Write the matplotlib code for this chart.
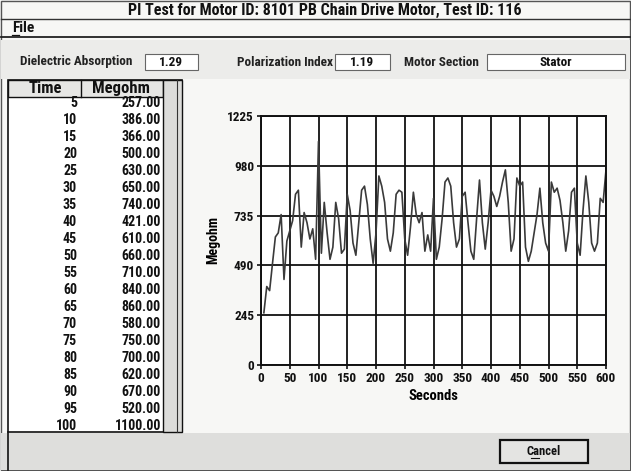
import matplotlib
matplotlib.use('Agg')
import matplotlib.pyplot as plt
from matplotlib.patches import Rectangle
from matplotlib import font_manager

names = {f.name for f in font_manager.fontManager.ttflist}
fams = [n for n in ['Liberation Sans Narrow', 'DejaVu Sans Condensed', 'Roboto Condensed'] if n in names]
plt.rcParams['font.family'] = fams + ['DejaVu Sans']
plt.rcParams['font.weight'] = 'bold'
plt.rcParams['axes.labelweight'] = 'bold'
plt.rcParams['font.stretch'] = 'condensed'

title = 'PI Test for Motor ID: 8101 PB Chain Drive Motor, Test ID: 116'
dielectric_absorption = '1.29'
polarization_index = '1.19'
motor_section = 'Stator'

# table rows shown on the left (first 100 seconds)
table_time = [5, 10, 15, 20, 25, 30, 35, 40, 45, 50,
              55, 60, 65, 70, 75, 80, 85, 90, 95, 100]
table_megohm = [257, 386, 366, 500, 630, 650, 740, 421, 610, 660,
                710, 840, 860, 580, 750, 700, 620, 670, 520, 1100]

# rest of the trace (105 .. 600 s)
rest_megohm = [550, 800, 650, 520, 580, 800, 720, 550, 570, 840,
               760, 600, 540, 700, 860, 880, 790, 620, 500, 650,
               930, 880, 800, 620, 560, 650, 840, 860, 850, 620,
               540, 680, 850, 740, 700, 750, 560, 640, 560, 820,
               520, 580, 720, 900, 920, 880, 700, 580, 620, 830,
               850, 700, 560, 520, 720, 910, 700, 570, 700, 860,
               830, 780, 830, 900, 960, 800, 560, 620, 920, 880,
               900, 580, 510, 560, 650, 740, 870, 700, 600, 560,
               900, 850, 870, 810, 700, 560, 660, 850, 870, 600,
               540, 760, 930, 800, 600, 560, 600, 820, 800, 960]

seconds = table_time + [105 + 5 * i for i in range(len(rest_megohm))]
megohm = table_megohm + rest_megohm

y_ticks = [0, 245, 490, 735, 980, 1225]
x_ticks = list(range(0, 601, 50))

W, H = 631, 471
fig = plt.figure(figsize=(W / 100, H / 100), dpi=100)
fig.patch.set_facecolor('#f4f4f2')

# background "dialog" axes in pixel coordinates
bg = fig.add_axes([0, 0, 1, 1])
bg.set_xlim(0, W)
bg.set_ylim(H, 0)
bg.axis('off')


def box(x0, y0, x1, y1, fc='white', ec='#222222', lw=1.0, z=1):
  bg.add_patch(Rectangle((x0, y0), x1 - x0, y1 - y0, facecolor=fc,
                         edgecolor=ec, linewidth=lw, zorder=z))


# window frame
box(1, 1, W - 1, H - 1, fc='#f7f7f5', ec='#555555', lw=1.0, z=0)
bg.text(325, 10, title, ha='center', va='center', fontsize=11.5, color='#111111')
bg.plot([1, W - 1], [19, 19], color='#333333', lw=1.0)
bg.text(12, 28, 'File', ha='left', va='center', fontsize=11, color='#111111')
bg.plot([12, 19], [35, 35], color='#111111', lw=0.9)
bg.plot([1, W - 1], [37, 37], color='#222222', lw=1.3)

# info row
box(1, 40, W - 1, 79, fc='#ececea', ec='none', z=0)
bg.text(20, 62, 'Dielectric Absorption', ha='left', va='center', fontsize=9.5, color='#222222')
box(145, 54, 198, 70, fc='white', ec='#666666', lw=0.8)
bg.text(171, 62, dielectric_absorption, ha='center', va='center', fontsize=9.5, color='#111111')
bg.text(237, 62, 'Polarization Index', ha='left', va='center', fontsize=9.5, color='#222222')
box(335, 54, 390, 70, fc='white', ec='#666666', lw=0.8)
bg.text(362, 62, polarization_index, ha='center', va='center', fontsize=9.5, color='#111111')
bg.text(404, 62, 'Motor Section', ha='left', va='center', fontsize=9.5, color='#222222')
box(487, 54, 625, 70, fc='white', ec='#666666', lw=0.8)
bg.text(556, 62, motor_section, ha='center', va='center', fontsize=9.5, color='#111111')

# table on the left
box(8, 80, 182, 432, fc='white', ec='#111111', lw=1.2)
box(8, 80, 163, 97, fc='#e6e6e4', ec='#111111', lw=1.0)
bg.plot([81, 81], [80, 97], color='#111111', lw=1.0)
bg.text(45, 88.5, 'Time', ha='center', va='center', fontsize=12, color='#111111')
bg.text(121, 88.5, 'Megohm', ha='center', va='center', fontsize=12, color='#111111')
box(163, 80, 182, 432, fc='#dcdcda', ec='#111111', lw=1.0)
bg.plot([177, 177], [80, 432], color='#333333', lw=0.8)
for i, (t, m) in enumerate(zip(table_time, table_megohm)):
  y = 103 + 17 * i
  if y > 428:
    break
  bg.text(77, y, str(t), ha='right', va='center', fontsize=10, color='#111111')
  bg.text(161, y, f'{m:.2f}', ha='right', va='center', fontsize=10, color='#111111')

# bottom strip + cancel button
box(1, 433, W - 1, H - 1, fc='#dededc', ec='none', z=0)
bg.plot([8, 8], [432, H - 1], color='#111111', lw=1.2)
box(500, 440, 588, 463, fc='#e4e4e2', ec='#111111', lw=1.6)
bg.text(544, 451.5, 'Cancel', ha='center', va='center', fontsize=9, color='#111111')
bg.plot([531, 539], [458, 458], color='#111111', lw=0.8)

# chart
ax = fig.add_axes([261 / W, (H - 365) / H, 345 / W, 249 / H])
ax.plot(seconds, megohm, color='#3a3a3a', lw=1.2)
ax.set_xlim(0, 600)
ax.set_ylim(0, 1225)
ax.set_xticks(x_ticks)
ax.set_yticks(y_ticks)
ax.grid(True, color='#111111', lw=1.3)
ax.set_axisbelow(True)
ax.tick_params(axis='both', labelsize=9.5, length=3, width=1.2, colors='#111111', pad=2)
for s in ax.spines.values():
  s.set_linewidth(1.4)
  s.set_color('#111111')
ax.set_xlabel('Seconds', fontsize=10.5, labelpad=3)
ax.set_ylabel('Megohm', fontsize=10, labelpad=5)

fig.savefig('out.png', dpi=100, facecolor=fig.get_facecolor())
